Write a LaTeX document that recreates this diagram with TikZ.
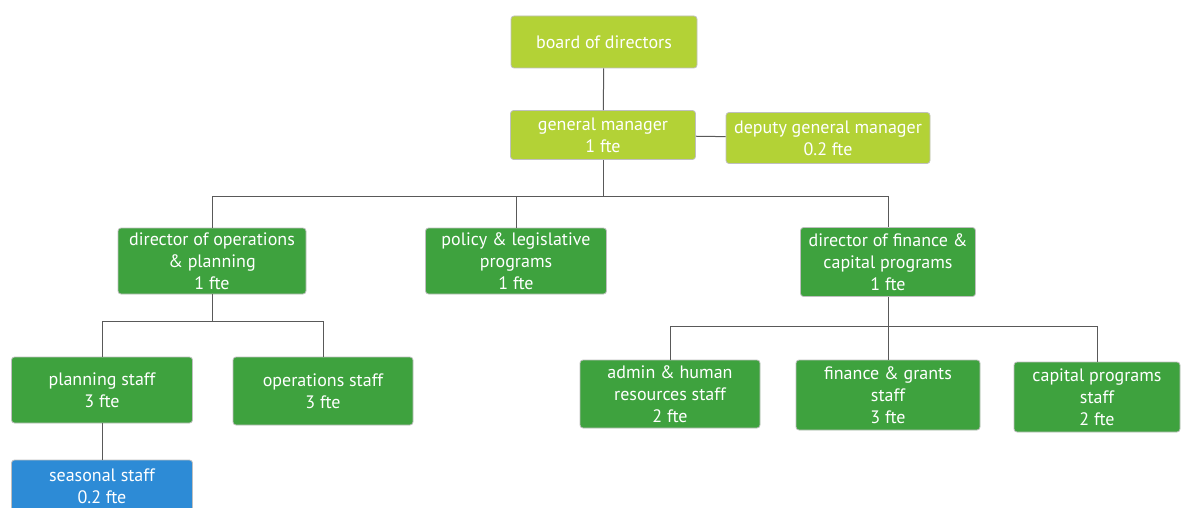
\documentclass[tikz,border=0pt]{standalone}
\usepackage{fontspec}
\setmainfont{PT Sans}
\usepackage{tikz}
\usetikzlibrary{positioning}

\definecolor{limegreen}{HTML}{B3D236}
\definecolor{staffgreen}{HTML}{3EA23E}
\definecolor{seasonblue}{HTML}{2D8BD6}

\begin{document}
\begin{tikzpicture}[x=0.5pt,y=-0.5pt]
\tikzset{
    unitbox/.style={rounded corners=1.5pt, draw=black!25, line width=0.4pt,
        text=white, align=center, inner sep=1pt,
        font=\fontsize{9}{11}\selectfont},
    topbox/.style={unitbox, fill=limegreen},
    staffbox/.style={unitbox, fill=staffgreen},
    seasonbox/.style={unitbox, fill=seasonblue},
    link/.style={draw=black!65, line width=0.5pt}
}
\useasboundingbox (0,0) rectangle (1182,508);

% Board and management
\node[topbox, minimum width=93pt, minimum height=26pt] (board) at (604,42) {board of directors};
\node[topbox, minimum width=92.5pt, minimum height=24.5pt] (gm) at (603,135) {general manager\\1 fte};
\node[topbox, minimum width=102pt, minimum height=25.5pt] (dgm) at (828,138) {deputy general manager\\0.2 fte};

% Directors
\node[staffbox, minimum width=94pt, minimum height=33pt] (dirops) at (212,261) {director of operations\\\& planning\\1 fte};
\node[staffbox, minimum width=90.5pt, minimum height=33pt] (policy) at (516,261) {policy \& legislative\\programs\\1 fte};
\node[staffbox, minimum width=87.5pt, minimum height=34.5pt] (dirfin) at (888,262) {director of finance \&\\capital programs\\1 fte};

% Staff
\node[staffbox, minimum width=90.5pt, minimum height=33pt] (planning) at (102,390) {planning staff\\3 fte};
\node[staffbox, minimum width=90pt, minimum height=34pt] (opsstaff) at (323,391) {operations staff\\3 fte};
\node[seasonbox, minimum width=90.5pt, minimum height=26pt] (seasonal) at (102,486) {seasonal staff\\0.2 fte};
\node[staffbox, minimum width=90pt, minimum height=34pt] (admin) at (670,394) {admin \& human\\resources staff\\2 fte};
\node[staffbox, minimum width=92pt, minimum height=35pt] (grants) at (888,395) {finance \& grants\\staff\\3 fte};
\node[staffbox, minimum width=83pt, minimum height=35pt] (capital) at (1097,397) {capital programs\\staff\\2 fte};

% Junctions
\coordinate (gmbar) at (603,196);
\coordinate (opsbar) at (212,321);
\coordinate (finbar) at (888,326);

% Connectors
\draw[link] (board) -- (gm);
\draw[link] (gm) -- (dgm);
\draw[link] (gm) -- (gmbar);
\draw[link] (gmbar) -| (dirops);
\draw[link] (gmbar) -| (policy);
\draw[link] (gmbar) -| (dirfin);

\draw[link] (dirops) -- (opsbar);
\draw[link] (opsbar) -| (planning);
\draw[link] (opsbar) -| (opsstaff);
\draw[link] (planning) -- (seasonal);

\draw[link] (dirfin) -- (grants);
\draw[link] (finbar) -| (admin);
\draw[link] (finbar) -| (capital);

\end{tikzpicture}
\end{document}
